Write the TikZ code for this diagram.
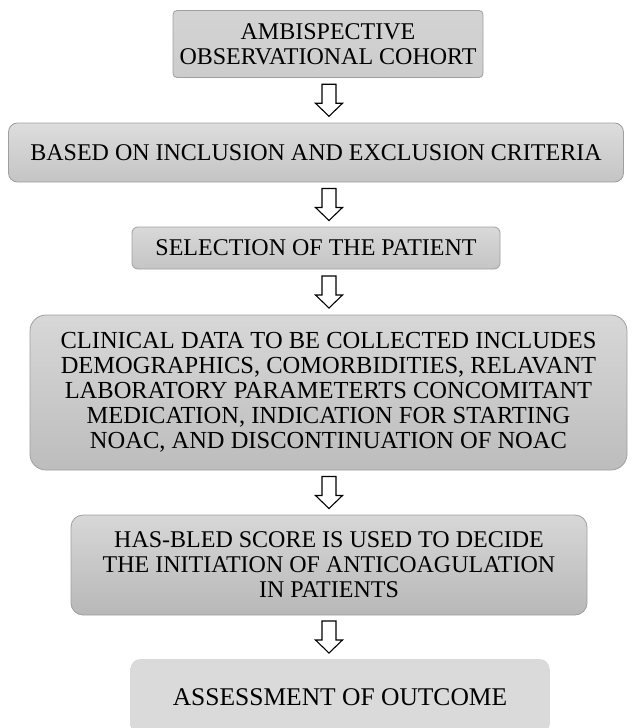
\documentclass[tikz,border=0pt]{standalone}
\usepackage{fontspec}
\setmainfont{Liberation Serif}
\usepackage{tikz}
\usetikzlibrary{calc}

% hollow block arrow pointing down, centred on a coordinate
\newcommand{\flowarrow}[1]{\draw[hollowarrow] (#1) ++(-7,-16) -- ++(14,0) -- ++(0,19) -- ++(6.5,0) -- ++(-13.5,13) -- ++(-13.5,-13) -- ++(6.5,0) -- cycle;}

\begin{document}
\begin{tikzpicture}[x=1pt, y=-1pt, font=\fontsize{24}{25}\selectfont,
    stepbox/.style = {shape=rectangle, draw=gray!75, line width=0.8pt, align=center, inner sep=0pt, top color=gray!30, bottom color=gray!46},
    hollowarrow/.style = {draw=black, fill=white, line width=1.1pt, line join=miter}]
    \path[use as bounding box, clip] (0,0) rectangle (632,728);
            \node[stepbox, rounded corners=4pt, top color=gray!34, bottom color=gray!40, minimum width=310pt, minimum height=67pt] (cohort) at (328,44) {AMBISPECTIVE\\OBSERVATIONAL COHORT};
            \node[stepbox, rounded corners=9pt, top color=gray!27, bottom color=gray!46, minimum width=615pt, minimum height=59pt] (criteria) at (316,152.5) {BASED ON INCLUSION AND EXCLUSION CRITERIA};
            \node[stepbox, rounded corners=6pt, minimum width=368pt, minimum height=42pt] (select) at (316,248) {SELECTION OF THE PATIENT};
            \node[stepbox, rounded corners=16pt, top color=gray!31, bottom color=gray!52, minimum width=597pt, minimum height=155pt, font=\fontsize{24.5}{25}\selectfont] (clinical) at (328.5,392.5) {CLINICAL DATA TO BE COLLECTED INCLUDES\\DEMOGRAPHICS, COMORBIDITIES, RELAVANT\\LABORATORY PARAMETERTS CONCOMITANT\\MEDICATION, INDICATION FOR STARTING\\NOAC, AND DISCONTINUATION OF NOAC};
            \node[stepbox, rounded corners=12pt, top color=gray!31, bottom color=gray!56, minimum width=516pt, minimum height=100pt] (hasbled) at (329,565) {HAS-BLED SCORE IS USED TO DECIDE\\THE INITIATION OF ANTICOAGULATION\\IN PATIENTS};
            \node[stepbox, draw=none, rounded corners=10pt, top color=gray!29, bottom color=gray!29, minimum width=419pt, minimum height=76pt, font=\fontsize{25.5}{25}\selectfont] (outcome) at (340,697) {ASSESSMENT OF OUTCOME};
            % arrows between the steps
            \coordinate (axis) at (329,0);
            \coordinate (t1) at ($(cohort.south)!0.5!(criteria.north)$);
            \coordinate (t2) at ($(criteria.south)!0.5!(select.north)$);
            \coordinate (t3) at ($(select.south)!0.5!(clinical.north)$);
            \coordinate (t4) at ($(clinical.south)!0.5!(hasbled.north)$);
            \coordinate (t5) at ($(hasbled.south)!0.5!(outcome.north)$);
            \foreach \t in {t1,t2,t3,t4,t5} {\flowarrow{axis |- \t}}
        \end{tikzpicture}
\end{document}
